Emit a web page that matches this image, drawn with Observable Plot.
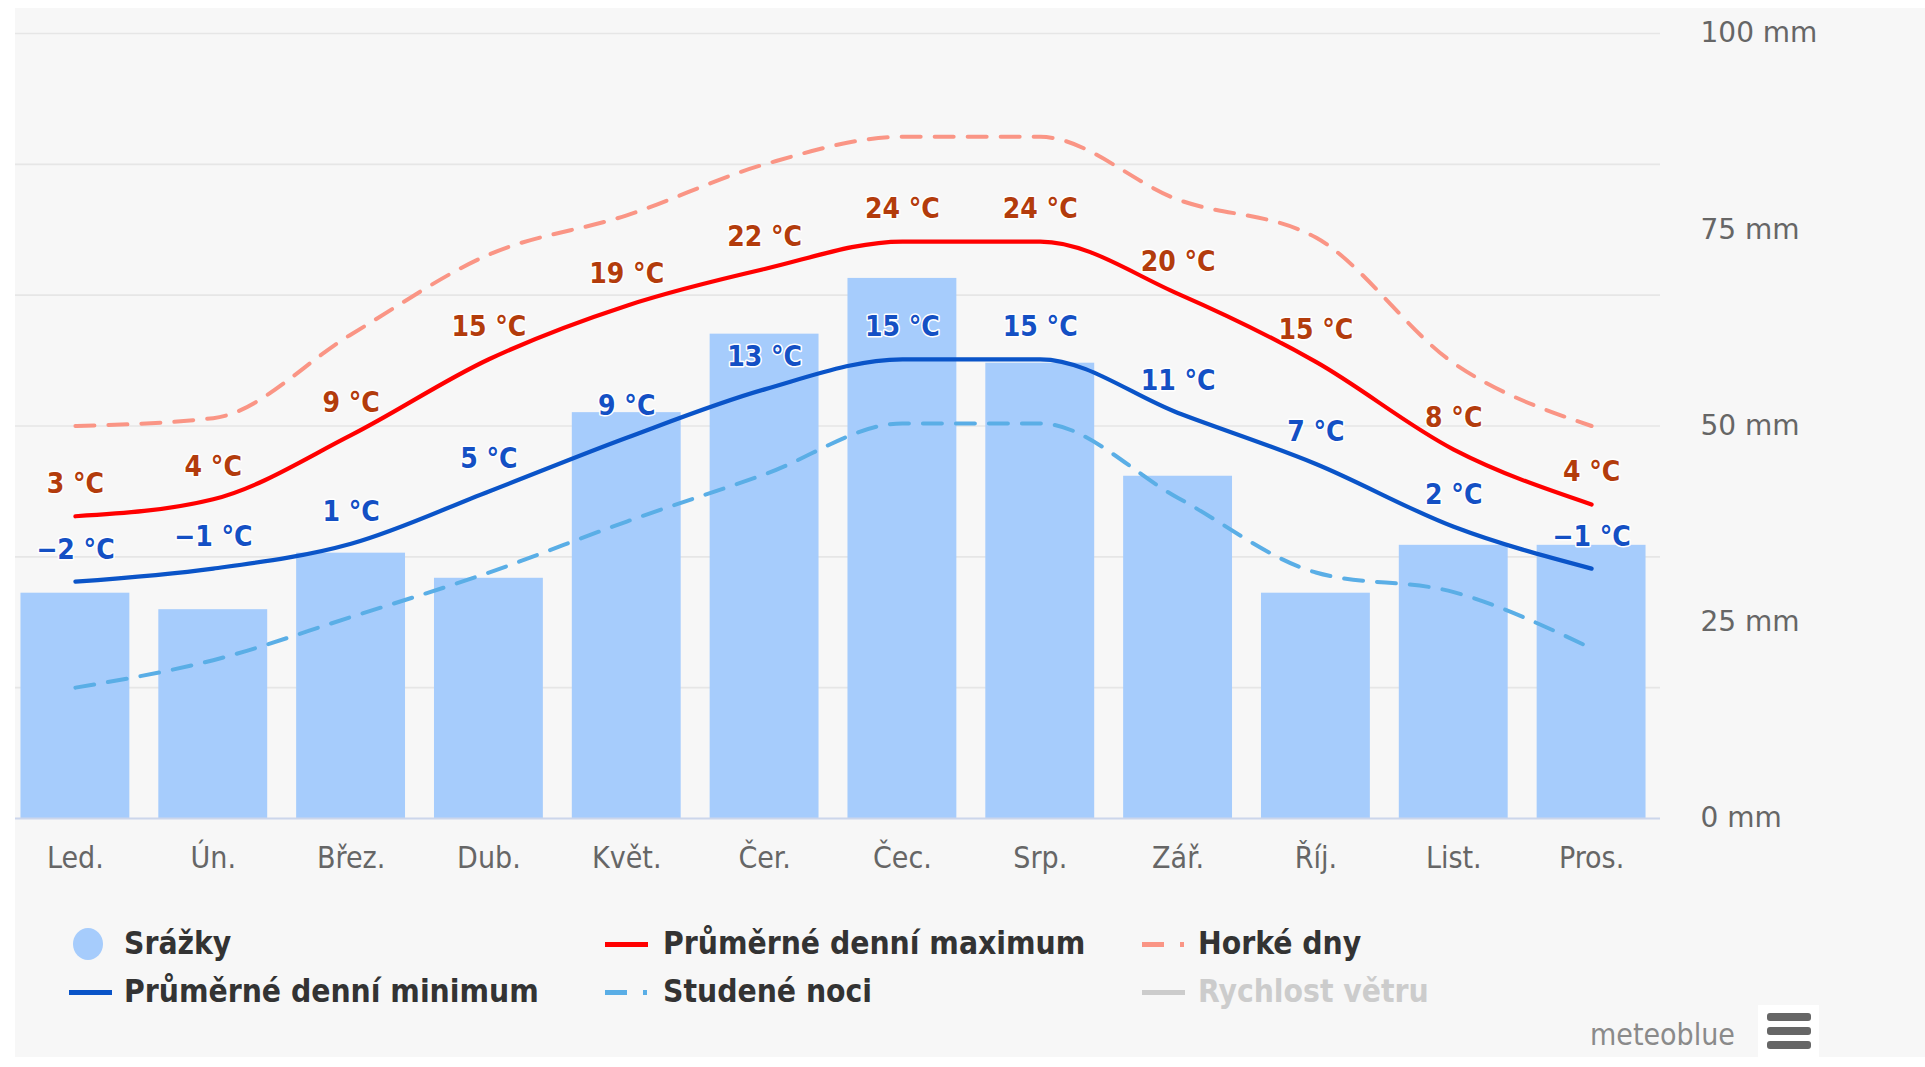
<!DOCTYPE html>
<html>
<head>
<meta charset="utf-8">
<script src="https://cdn.jsdelivr.net/npm/d3@7"></script>
<script src="https://cdn.jsdelivr.net/npm/@observablehq/plot@0.6"></script>
<style>
  html, body { margin: 0; padding: 0; background: #ffffff; width: 1925px; height: 1067px; overflow: hidden; }
  #bg { position: absolute; left: 15px; top: 8px; width: 1910px; height: 1049px; background: #f7f7f7; }
  #chart { position: absolute; left: 0; top: 0; }
  #mask { position: absolute; left: 0; top: 0; width: 15px; height: 1067px; background: #ffffff; }
  .cond { font-family: "DejaVu Sans Condensed", "DejaVu Sans", sans-serif; font-stretch: condensed; }
  .leg { position: absolute; font-size: 31.5px; font-weight: bold; color: #333333; line-height: 1; transform: translateY(-50%); white-space: nowrap; }
  .mk { position: absolute; }
</style>
</head>
<body>
<div id="bg"></div>
<div id="chart"></div>
<div id="mask"></div>
<div id="legend"></div>
<script>
// ---- data ----
const months = ["Led.", "Ún.", "Břez.", "Dub.", "Květ.", "Čer.", "Čec.", "Srp.", "Zář.", "Říj.", "List.", "Pros."];
const precipitation = [28.7, 26.6, 33.8, 30.6, 51.7, 61.7, 68.8, 58.0, 43.6, 28.7, 34.8, 34.8]; // mm
const tempMax = [3.1, 4.4, 9.3, 15.1, 19.2, 22.0, 24.1, 24.1, 20.1, 14.9, 8.2, 4.0];       // °C
const tempMin = [-1.9, -0.9, 1.0, 5.0, 9.1, 12.8, 15.1, 15.1, 11.0, 7.1, 2.3, -0.9];      // °C
const hotDays = [10.0, 10.6, 17.0, 23.1, 26.1, 30.0, 32.1, 32.1, 27.3, 24.4, 14.8, 10.0];  // °C
const coldNights = [-10.0, -7.9, -4.6, -1.2, 2.7, 6.3, 10.2, 10.2, 4.5, -1.2, -2.7, -7.0]; // °C
const mmTicks = [0, 25, 50, 75, 100];
const tempGrid = [-10, 0, 10, 20, 30, 40];
const tempDomain = [-20, 40];
const mmDomain = [0, 100];
const legendItems = [
  ["Srážky", "Průměrné denní maximum", "Horké dny"],
  ["Průměrné denní minimum", "Studené noci", "Rychlost větru"]
];

// precipitation is drawn on the temperature scale: 0 mm -> -20 °C, 100 mm -> 40 °C
const mmToTemp = mm => tempDomain[0] + (mm - mmDomain[0]) * (tempDomain[1] - tempDomain[0]) / (mmDomain[1] - mmDomain[0]);
const tempToMm = t => Math.round(mmDomain[0] + (t - tempDomain[0]) * (mmDomain[1] - mmDomain[0]) / (tempDomain[1] - tempDomain[0]));
const fmtT = v => { const r = Math.round(v); return (r < 0 ? "−" + Math.abs(r) : String(r)) + " °C"; };

const rows = months.map((m, i) => ({
  month: m, precip: precipitation[i], max: tempMax[i], min: tempMin[i], hot: hotDays[i], cold: coldNights[i]
}));

const FONT = '"DejaVu Sans Condensed", "DejaVu Sans", sans-serif';
const W = 1925, H = 900;

const chart = Plot.plot({
  width: W, height: H,
  marginTop: 33, marginBottom: H - 818, marginLeft: 6, marginRight: W - 1660,
  style: { background: "transparent", fontFamily: FONT, overflow: "visible" },
  x: { type: "band", domain: months, paddingInner: 0.21, paddingOuter: 0.105, round: false },
  y: { domain: tempDomain },
  marks: [
    Plot.ruleY(tempGrid, { stroke: "#e6e6e6", strokeWidth: 1.6 }),
    Plot.barY(rows, { x: "month", y1: () => tempDomain[0], y2: d => mmToTemp(d.precip), fill: "#a6ccfc" }),
    Plot.ruleY([tempDomain[0]], { stroke: "#ccd6eb", strokeWidth: 2 }),
    Plot.line(rows, { x: "month", y: "hot", stroke: "#fa9585", strokeWidth: 4, strokeDasharray: "19,14", curve: "monotone-x" }),
    Plot.line(rows, { x: "month", y: "cold", stroke: "#5aaee6", strokeWidth: 4, strokeDasharray: "19,14", curve: "monotone-x" }),
    Plot.line(rows, { x: "month", y: "max", stroke: "#ff0000", strokeWidth: 4.2, curve: "monotone-x" }),
    Plot.line(rows, { x: "month", y: "min", stroke: "#0a54c8", strokeWidth: 4.2, curve: "monotone-x" }),
    Plot.text(rows, { x: "month", y: "max", text: d => fmtT(d.max), dy: -32, fill: "#b33c0c", stroke: "white", strokeWidth: 3, paintOrder: "stroke", fontWeight: "bold", fontSize: 28, fontFamily: FONT }),
    Plot.text(rows, { x: "month", y: "min", text: d => fmtT(d.min), dy: -32, fill: "#1450c4", stroke: "white", strokeWidth: 3, paintOrder: "stroke", fontWeight: "bold", fontSize: 28, fontFamily: FONT }),
    Plot.axisY(mmTicks.map(mmToTemp), { anchor: "right", tickSize: 0, tickPadding: 40, tickFormat: t => tempToMm(t) + " mm", fontSize: 28, fill: "#666666", fontFamily: '"DejaVu Sans", sans-serif', label: null }),
    Plot.axisX({ anchor: "bottom", tickSize: 0, tickPadding: 28, fontSize: 30, fill: "#666666", label: null })
  ]
});
document.getElementById("chart").appendChild(chart);

// ---- legend (HTML) ----
const leg = document.getElementById("legend");
const rowsY = [944, 992];
const colX = [[88, 124], [605, 663], [1142, 1198]];
const markers = [
  [{ type: "circle", color: "#a6ccfc" }, { type: "line", color: "#ff0000" }, { type: "dashdot", color: "#fa9585" }],
  [{ type: "line", color: "#0a54c8" }, { type: "dashdot", color: "#5aaee6" }, { type: "line", color: "#cccccc" }]
];
legendItems.forEach((row, r) => {
  row.forEach((label, c) => {
    const y = rowsY[r];
    const mk = markers[r][c];
    const mx = r === 1 && c === 0 ? 69 : colX[c][0];
    if (mk.type === "circle") {
      const d = document.createElement("div");
      d.className = "mk";
      Object.assign(d.style, { left: (mx - 15) + "px", top: (y - 16) + "px", width: "30px", height: "32px", borderRadius: "50%", background: mk.color });
      leg.appendChild(d);
    } else if (mk.type === "line") {
      const d = document.createElement("div");
      d.className = "mk";
      Object.assign(d.style, { left: mx + "px", top: (y - 2.5) + "px", width: "43px", height: "5px", background: mk.color });
      leg.appendChild(d);
    } else {
      const d1 = document.createElement("div");
      d1.className = "mk";
      Object.assign(d1.style, { left: mx + "px", top: (y - 2.5) + "px", width: "22px", height: "5px", background: mk.color });
      const d2 = document.createElement("div");
      d2.className = "mk";
      Object.assign(d2.style, { left: (mx + 38) + "px", top: (y - 2.5) + "px", width: "4px", height: "5px", background: mk.color });
      leg.appendChild(d1); leg.appendChild(d2);
    }
    const t = document.createElement("div");
    t.className = "leg cond";
    t.textContent = label;
    t.style.left = colX[c][1] + "px";
    t.style.top = y + "px";
    if (label === "Rychlost větru") t.style.color = "#cccccc";
    leg.appendChild(t);
  });
});
// credit + menu
const credit = document.createElement("div");
credit.className = "cond";
credit.textContent = "meteoblue";
Object.assign(credit.style, { position: "absolute", left: "1590px", top: "1035px", transform: "translateY(-50%)", fontSize: "30px", color: "#8a8a8a", lineHeight: "1" });
leg.appendChild(credit);
const menu = document.createElement("div");
Object.assign(menu.style, { position: "absolute", left: "1758px", top: "1005px", width: "61px", height: "55px", background: "#ffffff" });
[12, 26, 40].forEach(yy => {
  const b = document.createElement("div");
  Object.assign(b.style, { position: "absolute", left: "9px", top: (yy - 4) + "px", width: "44px", height: "8px", borderRadius: "3px", background: "#666666" });
  menu.appendChild(b);
});
leg.appendChild(menu);
</script>
</body>
</html>
